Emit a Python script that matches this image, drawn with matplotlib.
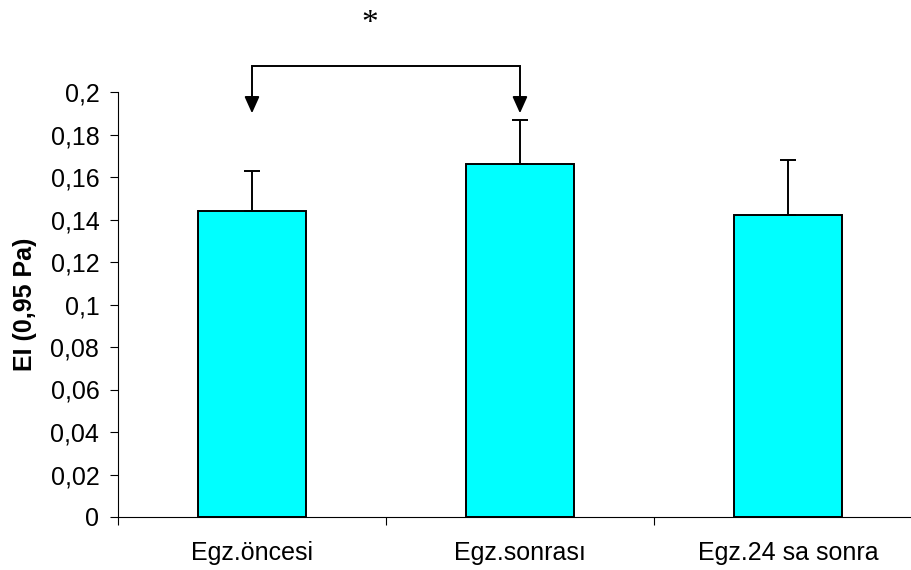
import matplotlib
matplotlib.use("Agg")
import matplotlib.pyplot as plt
from matplotlib.ticker import FixedLocator, FuncFormatter

# data
categories = ["Egz.öncesi", "Egz.sonrası", "Egz.24 sa sonra"]
means = [0.144, 0.166, 0.142]
sd_upper = [0.019, 0.021, 0.026]
y_ticks = [0, 0.02, 0.04, 0.06, 0.08, 0.1, 0.12, 0.14, 0.16, 0.18, 0.2]
y_label = "EI (0,95 Pa)"
sig_pair = (0, 1)
sig_mark = "*"

plt.rcParams["font.family"] = ["Liberation Sans", "DejaVu Sans"]

fig = plt.figure(figsize=(9.12, 5.70), dpi=100)
ax = fig.add_axes([118 / 912, 53 / 570, 794 / 912, 425 / 570])

x = list(range(len(categories)))
ax.bar(x, means, width=0.4, color="#00FFFF", edgecolor="black", linewidth=1.4, zorder=2)
ax.errorbar(x, means, yerr=[[0] * len(means), sd_upper], fmt="none",
            ecolor="black", elinewidth=1.4, capsize=6, capthick=1.4, zorder=3)

ax.set_xlim(-0.5, 2.463)
ax.set_ylim(0, 0.2)

# axes styling
ax.spines["top"].set_visible(False)
ax.spines["right"].set_visible(False)
ax.spines["left"].set_linewidth(0.8)
ax.spines["bottom"].set_linewidth(0.8)

ax.yaxis.set_major_locator(FixedLocator(y_ticks))
ax.yaxis.set_major_formatter(FuncFormatter(lambda v, p: f"{v:g}".replace(".", ",")))
ax.tick_params(axis="y", direction="out", length=5.5, width=0.8, pad=8, labelsize=18)

ax.set_xticks(x)
ax.set_xticklabels(categories)
ax.set_xticks([-0.5, 0.5, 1.5], minor=True)
ax.tick_params(axis="x", which="major", length=0, pad=17, labelsize=18)
ax.tick_params(axis="x", which="minor", direction="out", length=6, width=0.8)

ax.set_ylabel(y_label, fontsize=18, fontweight="bold")
ax.yaxis.set_label_coords(-81 / 794, 0.5)

# significance bracket
bracket_y = 0.2122
tip_y = 0.190
a, b = sig_pair
ax.plot([a, a, b, b], [tip_y + 0.006, bracket_y, bracket_y, tip_y + 0.006],
        color="black", linewidth=1.4, clip_on=False, solid_joinstyle="miter")
for xi in sig_pair:
    ax.annotate("", xy=(xi, tip_y), xytext=(xi, tip_y + 0.008), annotation_clip=False,
                arrowprops=dict(arrowstyle="-|>,head_width=0.45,head_length=1.0",
                                mutation_scale=10, color="black", lw=1.4,
                                shrinkA=0, shrinkB=0))
ax.text(0.44, 0.2320, sig_mark, ha="center", va="center", fontsize=24,
        family=["Liberation Serif", "DejaVu Serif"], clip_on=False)

fig.savefig("out.png", dpi=100)
